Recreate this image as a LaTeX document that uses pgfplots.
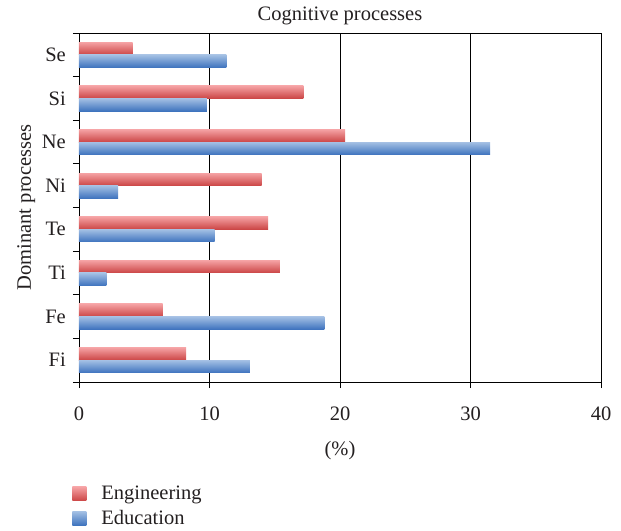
\documentclass[border=0pt]{standalone}
\usepackage{fontspec}
\setmainfont{Liberation Serif}
\usepackage{pgfplots}
\pgfplotsset{compat=1.18}

\definecolor{engtop}{HTML}{F5A2A4}
\definecolor{engbot}{HTML}{CB4545}
\definecolor{edutop}{HTML}{A4C0E4}
\definecolor{edubot}{HTML}{3E73BE}
\definecolor{txt}{HTML}{231F20}

% one \addplot per bar, so that every bar gets its own gradient
\pgfplotsset{
  engbar/.style={xbar, bar width=0.29, bar shift=0.145, draw=none,
    top color=engtop, bottom color=engbot},
  edubar/.style={xbar, bar width=0.29, bar shift=-0.145, draw=none,
    top color=edutop, bottom color=edubot},
}

\begin{document}
\begin{tikzpicture}
\useasboundingbox (-79bp,-149bp) rectangle (542bp,382bp);
\begin{axis}[
  at={(0,0)}, anchor=south west,
  scale only axis,
  width=522bp, height=349bp,
  font=\fontsize{20.5bp}{24bp}\selectfont,
  /pgf/number format/assume math mode=true,
  xmin=0, xmax=40,
  ymin=-0.5, ymax=7.5,
  xtick={0,10,20,30,40},
  ytick={0,...,7},
  yticklabels={Fi,Fe,Ti,Te,Ni,Ne,Si,Se},
  minor ytick={-0.5,0.5,...,7.5},
  xtick pos=bottom, ytick pos=left,
  tick align=outside,
  major tick length=6bp,
  minor tick length=6bp,
  major y tick style={draw=none},
  xmajorgrids,
  grid style={black, line width=0.8bp},
  axis line style={black, line width=0.8bp},
  tick style={black, line width=0.8bp},
  xticklabel style={anchor=base, text=txt, yshift=-32bp},
  yticklabel style={anchor=east, inner sep=0pt, text=txt, xshift=-7bp},
  title={Cognitive processes},
  title style={at={(0.5,1)}, anchor=base, yshift=7bp, text=txt},
  xlabel={(\%)},
  xlabel style={at={(0.5,0)}, anchor=base, yshift=-73bp, text=txt},
  ylabel={Dominant processes},
  ylabel style={at={(-0.092,0.5)}, anchor=base, text=txt},
  legend style={at={(-0.013,-0.297)}, anchor=north west, draw=none, fill=none,
    inner sep=0pt, row sep=9bp, text=txt,
    nodes={inner sep=0pt}},
  legend cell align=left,
  legend image code/.code={\path[#1,draw=none] (0bp,-7.5bp) rectangle (14bp,6.5bp);},
]
% Engineering / Education, categories Fi=0 ... Se=7
\addplot[engbar] coordinates {(8.2,0)};
\addlegendentry{\hspace{15bp}Engineering}
\addplot[edubar] coordinates {(13.1,0)};
\addlegendentry{\hspace{15bp}Education}
\addplot[engbar, forget plot] coordinates {(6.4,1)};
\addplot[edubar, forget plot] coordinates {(18.8,1)};
\addplot[engbar, forget plot] coordinates {(15.4,2)};
\addplot[edubar, forget plot] coordinates {(2.1,2)};
\addplot[engbar, forget plot] coordinates {(14.5,3)};
\addplot[edubar, forget plot] coordinates {(10.4,3)};
\addplot[engbar, forget plot] coordinates {(14.0,4)};
\addplot[edubar, forget plot] coordinates {(3.0,4)};
\addplot[engbar, forget plot] coordinates {(20.4,5)};
\addplot[edubar, forget plot] coordinates {(31.5,5)};
\addplot[engbar, forget plot] coordinates {(17.2,6)};
\addplot[edubar, forget plot] coordinates {(9.8,6)};
\addplot[engbar, forget plot] coordinates {(4.1,7)};
\addplot[edubar, forget plot] coordinates {(11.3,7)};
\end{axis}
\end{tikzpicture}
\end{document}
